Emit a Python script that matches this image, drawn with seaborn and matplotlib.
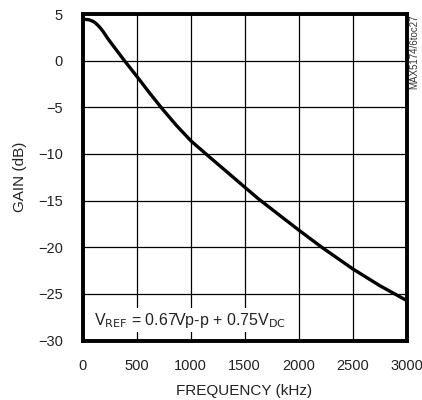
import pandas as pd
import seaborn as sns
import matplotlib.pyplot as plt

# Gain vs frequency
freq_khz = [0, 20, 60, 97, 120, 143, 165, 189, 235, 300, 388, 504, 620, 741,
            870, 1004, 1188, 1350, 1501, 1633, 1800, 2001, 2215, 2500, 2750, 3000]
gain_db = [4.45, 4.43, 4.38, 4.22, 4.03, 3.79, 3.5, 3.15, 2.36, 1.35, 0.0, -1.7, -3.45, -5.2,
           -6.95, -8.6, -10.45, -12.05, -13.55, -14.85, -16.35, -18.15, -20.0, -22.3, -24.1, -25.7]
x_ticks = [0, 500, 1000, 1500, 2000, 2500, 3000]
y_ticks = [5, 0, -5, -10, -15, -20, -25, -30]

df = pd.DataFrame({'freq': freq_khz, 'gain': gain_db})

sns.set_style('white')
plt.rcParams['font.family'] = ['Liberation Sans Narrow', 'Liberation Sans', 'DejaVu Sans']

fig = plt.figure(figsize=(4.22, 4.0), dpi=100)
ax = fig.add_axes([0.1955, 0.1485, 0.768, 0.8165])

sns.lineplot(data=df, x='freq', y='gain', color='black', linewidth=2.4, ax=ax)

ax.set_xlim(0, 3000)
ax.set_ylim(-30, 5)
ax.set_xticks(x_ticks)
ax.set_yticks(y_ticks)
ax.grid(True, color='black', linewidth=0.9)
ax.set_axisbelow(True)
ax.tick_params(length=0, labelsize=10.5, colors='#222222')
ax.tick_params(axis='x', pad=13)
ax.tick_params(axis='y', pad=14)
for s in ax.spines.values():
    s.set_linewidth(2.8)
    s.set_color('black')

ax.set_xlabel('FREQUENCY (kHz)', fontsize=11, color='#222222', labelpad=8)
ax.set_ylabel('GAIN (dB)', fontsize=11, color='#222222', labelpad=8)

ax.text(110, -27.8, r'V$_{\mathrm{REF}}$ = 0.67Vp-p + 0.75V$_{\mathrm{DC}}$',
        fontsize=11.5, color='#222222', va='center', ha='left',
        bbox=dict(facecolor='white', edgecolor='none', pad=1.5))

fig.text(0.982, 0.964, 'MAX5174/6toc27', rotation=90, fontsize=7,
         color='#333333', ha='center', va='top')

fig.savefig('out.png', dpi=100)
